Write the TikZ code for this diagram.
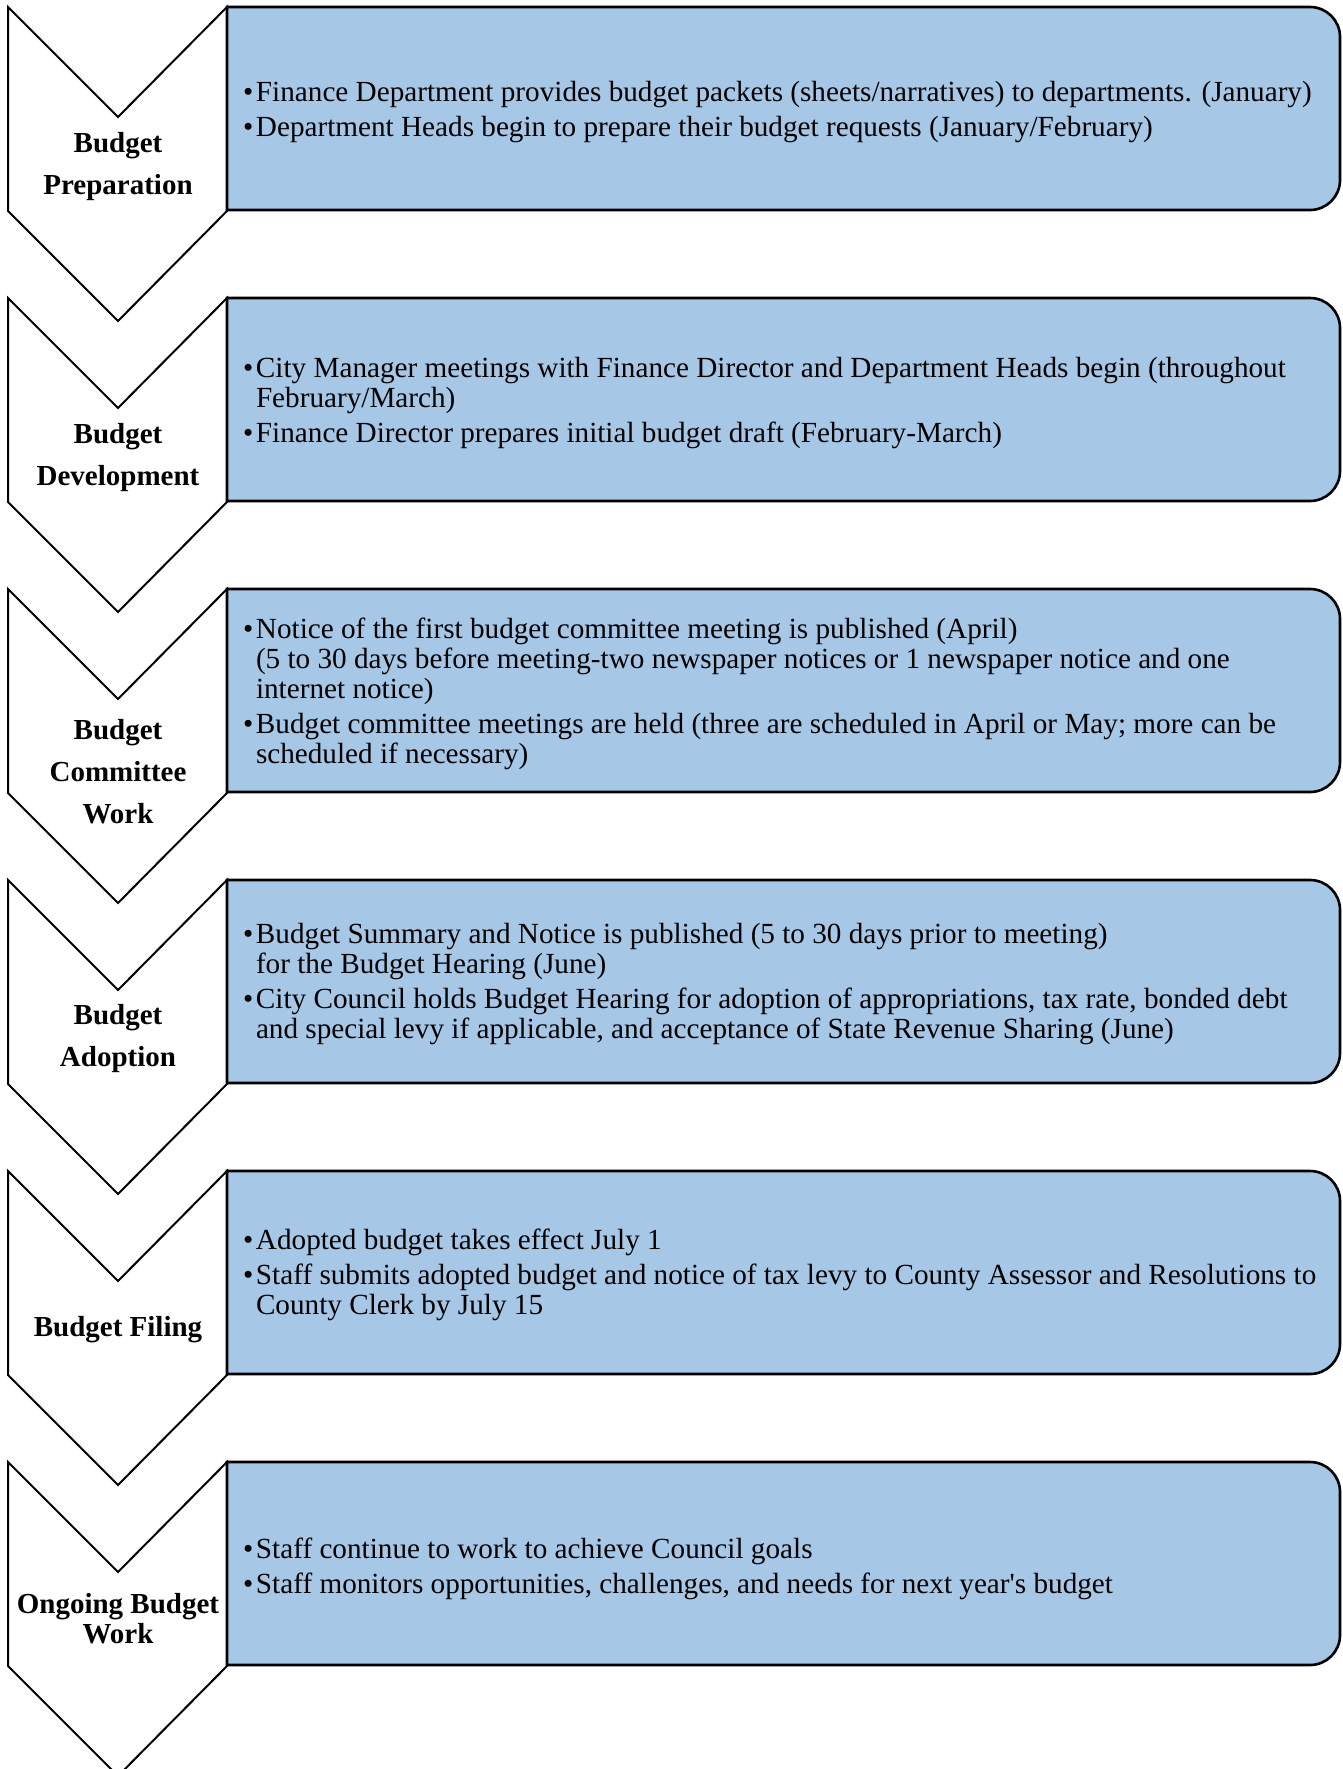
\documentclass[tikz,border=0pt]{standalone}
\usepackage{fontspec}
\setmainfont{Liberation Serif}
\definecolor{boxblue}{RGB}{167,199,231}
\newlength{\bw}\setlength{\bw}{12.8pt}
\newcommand{\bul}{\makebox[\bw][l]{•}}
\newcommand{\ind}{\hspace*{\bw}}
\newcommand{\chevron}[1]{%
  \draw[chev] (8,#1) -- (118,#1+110) -- (227,#1) -- (227,#1+204) -- (118,#1+314) -- (8,#1+204) -- cycle;}
\newcommand{\stagebox}[1]{%
  \draw[sbox] (227,#1+203) -- (227,#1) -- (1310,#1) arc[start angle=90,end angle=0,radius=30pt]
    -- (1340,#1+173) arc[start angle=0,end angle=-90,radius=30pt] -- cycle;}
\begin{document}
\begin{tikzpicture}[x=1pt,y=-1pt,
  chev/.style={draw=black, line width=2pt, fill=white, line join=miter},
  sbox/.style={draw=black, line width=2.6pt, fill=boxblue},
  lbl/.style={font=\fontsize{29}{42}\selectfont\bfseries, align=center, inner sep=0pt},
  txt/.style={font=\fontsize{29.2}{29.9}\selectfont, align=left, anchor=west, inner sep=0pt}]
\clip (0,0) rectangle (1343,1769);
\fill[white] (0,0) rectangle (1343,1769);
% stage 1
\chevron{7}\stagebox{7}
\node[lbl] (l1) at (118,167) {Budget\\Preparation};
\node[txt] (t1) at (243,112) {\bul Finance Department provides budget packets (sheets/narratives) to departments. (January)\\[5pt]
\bul Department Heads begin to prepare their budget requests (January/February)};
% stage 2
\chevron{298}\stagebox{298}
\node[lbl] (l2) at (118,458) {Budget\\Development};
\node[txt] (t2) at (243,403) {\bul City Manager meetings with Finance Director and Department Heads begin (throughout\\
\ind February/March)\\[5pt]
\bul Finance Director prepares initial budget draft (February-March)};
% stage 3
\chevron{589}\stagebox{589}
\node[lbl] (l3) at (118,772) {Budget\\Committee\\Work};
\node[txt] (t3) at (243,694) {\bul Notice of the first budget committee meeting is published (April)\\
\ind (5 to 30 days before meeting-two newspaper notices or 1 newspaper notice and one\\
\ind internet notice)\\[5pt]
\bul Budget committee meetings are held (three are scheduled in April or May; more can be\\
\ind scheduled if necessary)};
% stage 4
\chevron{880}\stagebox{880}
\node[lbl] (l4) at (118,1039) {Budget\\Adoption};
\node[txt] (t4) at (243,984) {\bul Budget Summary and Notice is published (5 to 30 days prior to meeting)\\
\ind for the Budget Hearing (June)\\[5pt]
\bul City Council holds Budget Hearing for adoption of appropriations, tax rate, bonded debt\\
\ind and special levy if applicable, and acceptance of State Revenue Sharing (June)};
% stage 5
\chevron{1171}\stagebox{1171}
\node[lbl] (l5) at (118,1330) {Budget Filing};
\node[txt] (t5) at (243,1275) {\bul Adopted budget takes effect July 1\\[5pt]
\bul Staff submits adopted budget and notice of tax levy to County Assessor and Resolutions to\\
\ind County Clerk by July 15};
% stage 6
\chevron{1462}\stagebox{1462}
\node[lbl, font=\fontsize{29}{30}\selectfont\bfseries] (l6) at (118,1619) {Ongoing Budget\\Work};
\node[txt] (t6) at (243,1569) {\bul Staff continue to work to achieve Council goals\\[5pt]
\bul Staff monitors opportunities, challenges, and needs for next year\textquotesingle s budget};
\end{tikzpicture}
\end{document}
